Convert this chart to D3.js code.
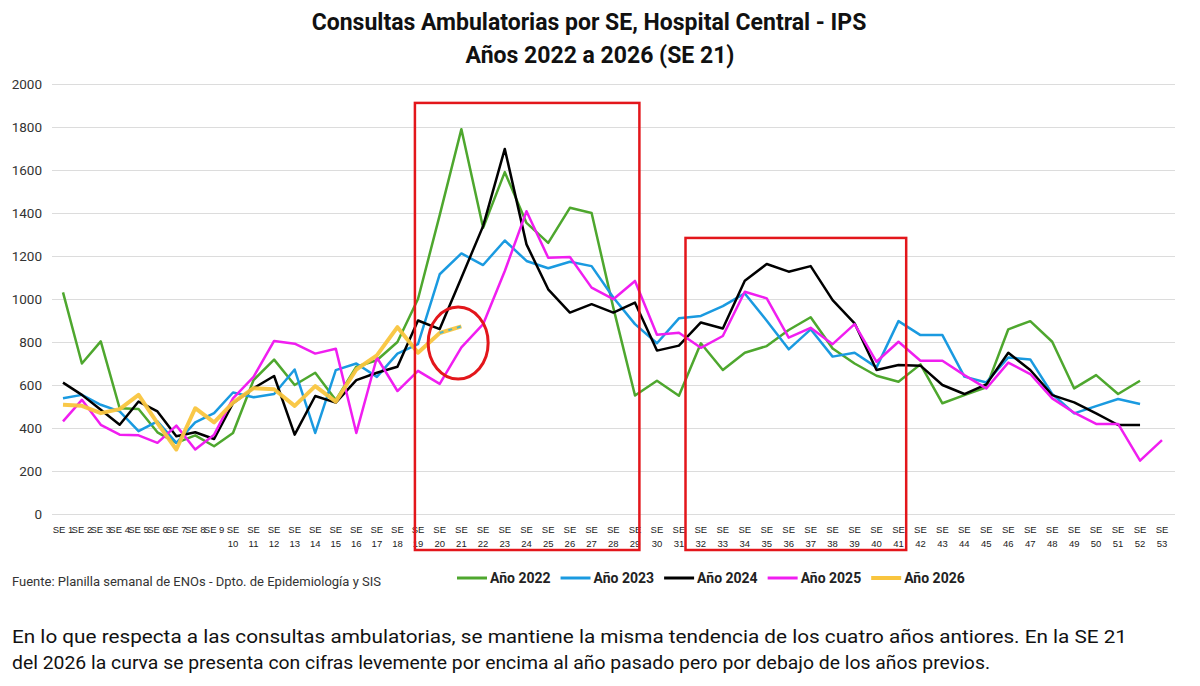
<!DOCTYPE html>
<html>
<head>
<meta charset="utf-8">
<script src="https://d3js.org/d3.v7.min.js"></script>
<style>
body { margin: 0; background: #fff; font-family: Roboto, 'Liberation Sans', sans-serif; }
svg { display: block; }
</style>
</head>
<body>
<div id="chart"></div>
<script>

// ---- data ----
var weeks = d3.range(1, 54);
var yTicks = [0, 200, 400, 600, 800, 1000, 1200, 1400, 1600, 1800, 2000];

var years = ["Año 2022", "Año 2023", "Año 2024", "Año 2025", "Año 2026"];
var colors = ["#4EA72E", "#1A9AE0", "#000000", "#F01EF0", "#F9C53E"];

var v2022 = [1031, 700, 803, 492, 488, 380, 331, 366, 315, 377, 623, 718, 600, 657, 530, 685, 715, 800,
  1000, 1390, 1790, 1331, 1590, 1354, 1261, 1424, 1400, 960, 551, 620, 550, 794, 670, 750, 781, 856,
  915, 770, 700, 643, 615, 696, 515, 553, 589, 859, 897, 801, 584, 646, 558, 620];
var v2023 = [538, 554, 508, 477, 385, 431, 331, 426, 469, 565, 543, 558, 672, 377, 669, 700, 638, 746,
  790, 1115, 1212, 1158, 1272, 1177, 1143, 1173, 1153, 1007, 883, 794, 910, 921, 967, 1026, 899, 766,
  859, 732, 750, 682, 897, 832, 832, 639, 612, 728, 719, 558, 468, 502, 535, 512];
var v2024 = [611, 554, 485, 415, 523, 477, 362, 380, 349, 515, 585, 642, 369, 549, 518, 623, 657, 685,
  900, 860, 1099, 1339, 1698, 1254, 1045, 937, 976, 937, 983, 760, 783, 891, 863, 1085, 1163, 1127,
  1153, 995, 887, 670, 693, 690, 600, 558, 603, 750, 670, 553, 519, 468, 414, 414];
var v2025 = [431, 531, 415, 369, 366, 331, 411, 300, 369, 538, 638, 805, 792, 746, 769, 377, 728, 572,
  666, 605, 775, 883, 1130, 1408, 1192, 1195, 1053, 999, 1084, 834, 843, 773, 828, 1034, 1003, 820,
  866, 790, 883, 708, 801, 713, 713, 646, 584, 704, 651, 538, 471, 419, 419, 248, 344];
var v2026 = [508, 503, 469, 488, 554, 423, 300, 492, 426, 518, 585, 580, 503, 595, 523, 672, 738, 869,
  750, 842, 873];

var allSeries = [v2022, v2023, v2024, v2025, v2026];

// highlighted zones (week range + top value) and the circled point
var boxes = [{ from: 18.85, to: 29.2, top: 1912 }, { from: 31.3, to: 41.35, top: 1284 }];
var circleMark = { week: 20.85, value: 795 };

// ---- layout ----
var W = 1200, H = 686;
var svg = d3.select("#chart").append("svg").attr("width", W).attr("height", H);

// the source picture is slightly stretched toward the right, so the week axis
// is a piecewise linear scale
var x = d3.scaleLinear().domain([1, 10, 19, 29, 53]).range([63, 233, 418, 635, 1162]);
var y = d3.scaleLinear().domain([0, 2000]).range([514, 84]);
var gridLeft = 52, gridRight = 1175;

// title
svg.append("text").attr("x", 589).attr("y", 30).attr("text-anchor", "middle")
  .style("font-size", "23px").style("font-weight", "bold").style("fill", "#111")
  .text("Consultas Ambulatorias por SE, Hospital Central - IPS");
svg.append("text").attr("x", 600).attr("y", 63).attr("text-anchor", "middle")
  .style("font-size", "23px").style("font-weight", "bold").style("fill", "#111")
  .text("Años 2022 a 2026 (SE 21)");

// y axis + gridlines
var yAxis = svg.append("g").attr("transform", "translate(" + gridLeft + ",0)")
  .call(d3.axisLeft(y).tickValues(yTicks).tickFormat(d3.format("d"))
    .tickSize(-(gridRight - gridLeft)).tickPadding(10));
yAxis.select(".domain").remove();
yAxis.selectAll(".tick line").attr("stroke", "#dcdcdc").attr("stroke-width", 1.2);
yAxis.selectAll(".tick text").style("font-size", "13.5px").style("fill", "#333")
  .style("font-family", "Roboto, sans-serif");

// week labels
var xl = svg.append("g").selectAll("text").data(weeks).enter().append("text")
  .attr("x", function(d) { return x(d); })
  .attr("y", 533)
  .attr("text-anchor", "middle")
  .style("font-size", "9.5px").style("fill", "#222")
  .style("font-family", "'Liberation Sans', sans-serif");
xl.each(function(d) {
  var t = d3.select(this);
  if (d < 10) {
    t.text("SE " + d);
  } else {
    t.append("tspan").attr("x", x(d)).attr("dy", 0).text("SE");
    t.append("tspan").attr("x", x(d)).attr("dy", 14).text(d);
  }
});

// lines
var line = d3.line()
  .x(function(d, i) { return x(weeks[i]); })
  .y(function(d) { return y(d); });

svg.append("g").selectAll("path").data(allSeries).enter().append("path")
  .attr("d", line)
  .attr("fill", "none")
  .attr("stroke", function(d, i) { return colors[i]; })
  .attr("stroke-width", function(d, i) { return i == 4 ? 4 : 2.5; })
  .attr("stroke-linejoin", "round")
  .attr("opacity", function(d, i) { return i == 4 ? 0.95 : 1; });

// last 2026 stretch drawn with a faint dashed overlay
svg.append("path")
  .attr("d", line.x(function(d, i) { return x(weeks[i + 19]); })(v2026.slice(19)))
  .attr("fill", "none").attr("stroke", "#4fb6c9").attr("stroke-width", 2)
  .attr("stroke-dasharray", "4,5");

// red annotations
svg.append("g").selectAll("rect").data(boxes).enter().append("rect")
  .attr("x", function(d) { return x(d.from); })
  .attr("y", function(d) { return y(d.top); })
  .attr("width", function(d) { return x(d.to) - x(d.from); })
  .attr("height", function(d) { return y(0) + 36 - y(d.top); })
  .attr("fill", "none").attr("stroke", "#E3161B").attr("stroke-width", 2.5);

svg.append("ellipse")
  .attr("cx", x(circleMark.week)).attr("cy", y(circleMark.value))
  .attr("rx", 30).attr("ry", 36)
  .attr("fill", "none").attr("stroke", "#E3161B").attr("stroke-width", 3);

// source
svg.append("text").attr("x", 12).attr("y", 586)
  .style("font-size", "13px").style("fill", "#333")
  .text("Fuente: Planilla semanal de ENOs - Dpto. de Epidemiología y SIS");

// legend
var lg = svg.append("g").attr("transform", "translate(457,578)");
var lx = 0;
years.forEach(function(name, i) {
  lg.append("line").attr("x1", lx).attr("x2", lx + 30).attr("y1", 0).attr("y2", 0)
    .attr("stroke", colors[i]).attr("stroke-width", i == 4 ? 4 : 3);
  var t = lg.append("text").attr("x", lx + 33).attr("y", 5)
    .style("font-size", "14px").style("font-weight", "bold").style("fill", "#222")
    .text(name);
  lx += 33 + t.node().getComputedTextLength() + 10;
});

// comment text
svg.append("text").attr("x", 12).attr("y", 643)
  .attr("textLength", 1115).attr("lengthAdjust", "spacingAndGlyphs")
  .style("font-size", "19px").style("fill", "#111")
  .text("En lo que respecta a las consultas ambulatorias, se mantiene la misma tendencia de los cuatro años antiores. En la SE 21");
svg.append("text").attr("x", 12).attr("y", 669)
  .attr("textLength", 978).attr("lengthAdjust", "spacingAndGlyphs")
  .style("font-size", "19px").style("fill", "#111")
  .text("del 2026 la curva se presenta con cifras levemente por encima al año pasado pero por debajo de los años previos.");

</script>
</body>
</html>
